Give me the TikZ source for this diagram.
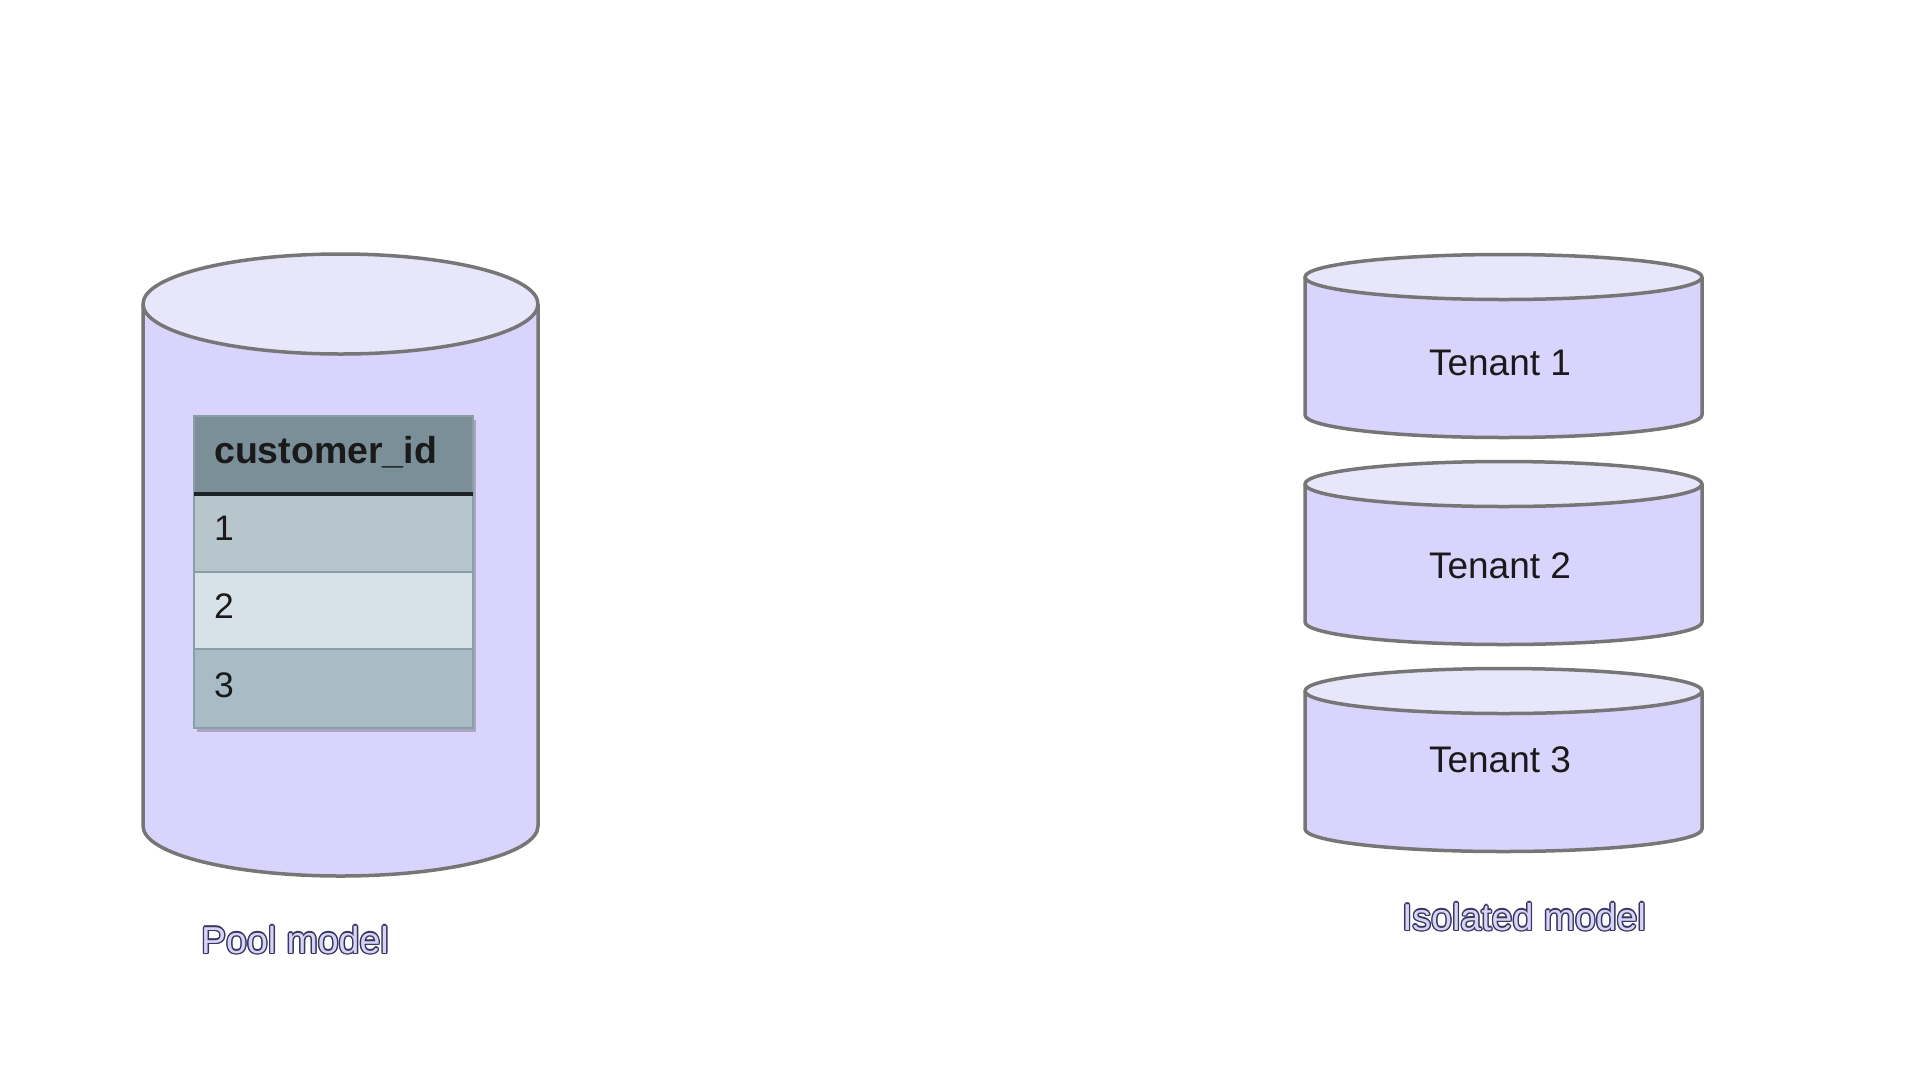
\documentclass[tikz,border=0pt]{standalone}
\usepackage{fontspec}
\setmainfont{Liberation Sans}
\definecolor{cylbody}{HTML}{D9D4FC}
\definecolor{cyltop}{HTML}{E8E6FB}
\definecolor{cylline}{HTML}{767676}
\definecolor{hdrfill}{HTML}{7B8F99}
\definecolor{rowa}{HTML}{B6C6CC}
\definecolor{rowb}{HTML}{D6E2E8}
\definecolor{rowc}{HTML}{A9BCC5}
\definecolor{rowline}{HTML}{8A9EA8}
\definecolor{hdrline}{HTML}{1E2226}
\definecolor{labfill}{HTML}{D8D4F8}
\definecolor{labline}{HTML}{38365E}
\definecolor{txt}{HTML}{1A1A1A}
\tikzset{
  cylstroke/.style={draw=cylline, line width=3.5pt, line join=round},
  cellbox/.style={draw=rowline, line width=1.8pt, anchor=north west, inner sep=0pt, outer sep=0pt, minimum width=279pt},
  celltext/.style={anchor=base west, inner sep=0pt, text=txt, font=\fontsize{35.5}{42}\selectfont},
  tenanttext/.style={anchor=base, inner sep=0pt, text=txt, font=\fontsize{37}{44}\selectfont},
  labtext/.style={anchor=base, inner sep=0pt, font=\fontsize{37.5}{45}\selectfont}
}
\newcommand\dbcylinder[5]{%
  \fill[cylbody] (#1-#4,#2) -- (#1-#4,#3) arc[start angle=180,end angle=360,x radius=#4pt,y radius=#5pt] -- (#1+#4,#2) -- cycle;
  \draw[cylstroke] (#1-#4,#2) -- (#1-#4,#3) arc[start angle=180,end angle=360,x radius=#4pt,y radius=#5pt] -- (#1+#4,#2);
  \draw[cylstroke, fill=cyltop] (#1,#2) ellipse[x radius=#4pt, y radius=#5pt];
}
\newcommand\outlinedlabel[4]{% name, x, y, text
  \foreach \dx/\dy in {1.4/0,-1.4/0,0/1.4,0/-1.4,1/1,-1/1,1/-1,-1/-1}
    \node[labtext, text=labline] at ([shift={(\dx pt,\dy pt)}]#2,#3) {#4};
  \node[labtext, text=labfill] (#1) at (#2,#3) {#4};
}
\begin{document}
\begin{tikzpicture}[x=1pt, y=-1pt]
\useasboundingbox (0,0) rectangle (1920,1080);
% pool model cylinder
\dbcylinder{340.5}{304}{826}{197.5}{50}
% table
\fill[black, opacity=0.22] (197,420) rectangle (476,732);
\node[cellbox, fill=hdrfill, minimum height=78pt] (hdr) at (194,416) {};
\node[cellbox, fill=rowa, minimum height=78pt] (r1) at (194,494) {};
\node[cellbox, fill=rowb, minimum height=77pt] (r2) at (194,572) {};
\node[cellbox, fill=rowc, minimum height=79pt] (r3) at (194,649) {};
\draw[hdrline, line width=4.5pt] (hdr.south west) -- (hdr.south east);
\node[celltext, font=\fontsize{37.5}{45}\selectfont\bfseries] (thdr) at (214,463) {customer\_id};
\node[celltext] (t1) at (214,540) {1};
\node[celltext] (t2) at (214,618) {2};
\node[celltext] (t3) at (214,697) {3};
% isolated model cylinders
\dbcylinder{1503.5}{277}{415}{198.5}{22.5}
\dbcylinder{1503.5}{484}{622}{198.5}{22.5}
\dbcylinder{1503.5}{691}{829}{198.5}{22.5}
\node[tenanttext] (ten1) at (1500,375) {Tenant 1};
\node[tenanttext] (ten2) at (1500,578) {Tenant 2};
\node[tenanttext] (ten3) at (1500,772) {Tenant 3};
% labels
\outlinedlabel{pool}{295}{953}{Pool model}
\outlinedlabel{iso}{1524}{930}{Isolated model}
\end{tikzpicture}
\end{document}
